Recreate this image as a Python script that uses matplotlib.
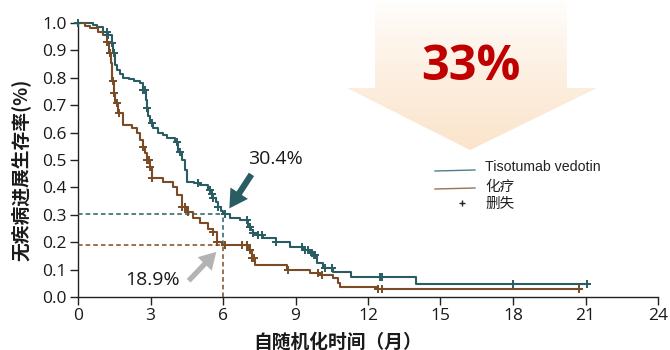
import numpy as np
import matplotlib
matplotlib.use("Agg")
import matplotlib.pyplot as plt
from matplotlib.patches import Polygon, FancyArrowPatch
from matplotlib.lines import Line2D

# ---- Kaplan-Meier data (months, survival probability) ----
tv_times = [0, 0.6, 0.8, 1.05, 1.25, 1.4, 1.45, 1.53, 1.6, 1.75, 1.87, 2.1, 2.3, 2.57,
            2.7, 2.8, 2.85, 2.9, 2.98, 3.1, 3.3, 3.5, 3.7, 4.0, 4.15, 4.3, 4.43, 4.5,
            4.8, 5.05, 5.38, 5.5, 5.6, 5.7, 5.8, 5.9, 6.0, 6.3, 6.7, 7.05, 7.15, 7.25,
            7.4, 7.65, 8.2, 8.77, 9.3, 9.6, 9.75, 9.9, 10.15, 10.55, 11.3, 14.0]
tv_surv = [1.0, 0.993, 0.985, 0.967, 0.956, 0.927, 0.89, 0.847, 0.83, 0.815, 0.80, 0.795,
           0.79, 0.78, 0.755, 0.72, 0.69, 0.66, 0.635, 0.615, 0.60, 0.59, 0.58, 0.565,
           0.53, 0.50, 0.463, 0.42, 0.415, 0.41, 0.39, 0.375, 0.36, 0.345, 0.33, 0.315,
           0.304, 0.29, 0.28, 0.255, 0.245, 0.233, 0.225, 0.215, 0.20, 0.182, 0.17, 0.16,
           0.153, 0.124, 0.106, 0.09, 0.073, 0.047]
tv_end = 21.1
tv_censor = [0, 1.2, 1.25, 1.4, 1.47, 2.7, 2.77, 2.85, 3.06, 4.1, 4.2, 4.97, 5.46, 5.54,
             5.6, 5.8, 6.08, 7.0, 7.1, 7.25, 7.45, 7.6, 8.2, 9.27, 9.4, 9.5, 9.68, 9.75,
             9.8, 10.2, 10.5, 12.5, 12.6, 18.0, 21.05]

chemo_times = [0, 0.29, 0.5, 0.83, 1.05, 1.2, 1.28, 1.37, 1.42, 1.47, 1.53, 1.67, 1.87,
               2.23, 2.43, 2.57, 2.7, 2.77, 2.85, 2.98, 3.06, 3.5, 3.93, 4.1, 4.3, 4.5,
               4.77, 5.05, 5.38, 5.6, 5.75, 5.95, 7.05, 7.2, 7.32, 8.65, 9.6, 10.0, 10.55,
               10.75, 10.85, 12.4]
chemo_surv = [1.0, 0.99, 0.98, 0.967, 0.956, 0.93, 0.89, 0.854, 0.79, 0.745, 0.708, 0.67,
              0.628, 0.617, 0.60, 0.573, 0.547, 0.525, 0.50, 0.474, 0.434, 0.42, 0.40,
              0.372, 0.33, 0.31, 0.29, 0.27, 0.25, 0.237, 0.20, 0.189, 0.17, 0.142, 0.117,
              0.10, 0.088, 0.08, 0.07, 0.05, 0.037, 0.03]
chemo_end = 20.85
chemo_censor = [1.2, 1.32, 1.45, 1.5, 1.6, 1.7, 2.7, 2.85, 2.92, 2.98, 3.06, 4.3, 4.43,
                4.55, 5.6, 5.75, 6.08, 6.78, 7.0, 7.1, 7.2, 7.3, 8.7, 9.93, 10.1, 12.4,
                12.6, 20.75]

landmark_t = 6
tv_at_6 = 0.304
chemo_at_6 = 0.189
reduction_label = "33%"

x_ticks = [0, 3, 6, 9, 12, 15, 18, 21, 24]
y_ticks = [0.0, 0.1, 0.2, 0.3, 0.4, 0.5, 0.6, 0.7, 0.8, 0.9, 1.0]

TEAL = "#2a5c63"
BROWN = "#7a4b24"
CJK = ["Noto Sans CJK SC", "DejaVu Sans"]
NUM = ["Open Sans", "DejaVu Sans"]

W, H = 670, 350
fig = plt.figure(figsize=(W / 100, H / 100), dpi=100)

# ---- background overlay in pixel coordinates: the big gradient arrow ----
bg = fig.add_axes([0, 0, 1, 1], zorder=0)
bg.set_xlim(0, W)
bg.set_ylim(H, 0)
bg.axis("off")
grad = np.linspace(0, 1, 256)[:, None]
top = np.array([1.0, 1.0, 1.0])
bot = np.array([251, 228, 203]) / 255
img = top + (bot - top) * grad[..., None] ** 0.8
img = np.repeat(img, 2, axis=1)
im = bg.imshow(img, extent=[345, 600, 150, 0], aspect="auto", zorder=1)
arrow_poly = Polygon([[375, 0], [567, 0], [567, 88], [597, 88], [470, 150],
                      [347, 88], [375, 88]], closed=True, transform=bg.transData,
                     facecolor="none", edgecolor="none")
bg.add_patch(arrow_poly)
im.set_clip_path(arrow_poly)
bg.text(471, 68, reduction_label, color="#c00000", fontsize=35, fontweight="bold",
        family=NUM, ha="center", va="center", zorder=3)

# ---- main KM axes ----
ax = fig.add_axes([78 / W, 1 - 297 / H, 580 / W, 274 / H], zorder=2)
ax.patch.set_alpha(0)


def step_xy(times, surv, end):
    return list(times) + [end], list(surv) + [surv[-1]]


def surv_at(times, surv, c):
    idx = np.searchsorted(times, c, side="right") - 1
    return np.asarray(surv)[idx]


for times, surv, end, cens, col in [
        (tv_times, tv_surv, tv_end, tv_censor, TEAL),
        (chemo_times, chemo_surv, chemo_end, chemo_censor, BROWN)]:
    xs, ys = step_xy(times, surv, end)
    ax.step(xs, ys, where="post", color=col, lw=1.5, zorder=4, clip_on=False)
    cy = surv_at(times, surv, np.array(cens))
    ax.plot(cens, cy, ls="none", marker="+", ms=5.5, mew=1.4, color=col,
            zorder=5, clip_on=False)

# landmark guide lines at 6 months
ax.plot([0, landmark_t], [tv_at_6, tv_at_6], ls=(0, (3, 2)), color=TEAL, lw=1.1, zorder=3)
ax.plot([landmark_t, landmark_t], [chemo_at_6, tv_at_6], ls=(0, (3, 2)), color=TEAL,
        lw=1.1, zorder=3)
ax.plot([0, landmark_t], [chemo_at_6, chemo_at_6], ls=(0, (3, 2)), color=BROWN, lw=1.1,
        zorder=3)
ax.plot([landmark_t, landmark_t], [0, chemo_at_6], ls=(0, (3, 2)), color=BROWN, lw=1.1,
        zorder=3, clip_on=False)

# value call-outs
ax.text(8.15, 0.505, f"{tv_at_6 * 100:.1f}%", fontsize=14, family=NUM,
        ha="center", va="center", color="#1a1a1a")
ax.text(3.1, 0.062, f"{chemo_at_6 * 100:.1f}%", fontsize=14, family=NUM,
        ha="center", va="center", color="#1a1a1a")
ax.add_patch(FancyArrowPatch((7.24, 0.456), (6.2, 0.315), mutation_scale=10,
                             arrowstyle="simple,head_length=1.3,head_width=1.5,tail_width=0.45",
                             color=TEAL, lw=0, zorder=6))
ax.add_patch(FancyArrowPatch((4.5, 0.052), (5.8, 0.172), mutation_scale=10,
                             arrowstyle="simple,head_length=1.2,head_width=1.4,tail_width=0.38",
                             color="#b3b3b3", lw=0, zorder=6))

ax.set_xlim(0, 24)
ax.set_ylim(0, 1.0)
ax.set_xticks(x_ticks)
ax.set_yticks(y_ticks)
ax.set_yticklabels([f"{v:.1f}" for v in y_ticks])
for s in ["top", "right"]:
    ax.spines[s].set_visible(False)
for s in ["left", "bottom"]:
    ax.spines[s].set_color("#222222")
    ax.spines[s].set_linewidth(1.0)
ax.tick_params(axis="both", direction="out", length=6, width=1.0, color="#222222",
               labelsize=12.5, labelcolor="#1a1a1a", pad=2)
for lab in ax.get_xticklabels() + ax.get_yticklabels():
    lab.set_family(NUM)

fig.text(338 / W, 1 - 342 / H, "自随机化时间（月）", family=CJK, fontweight="bold",
         fontsize=13.5, ha="center", va="center", color="#1a1a1a")
fig.text(22 / W, 1 - 170 / H, "无疾病进展生存率(%)", family=CJK, fontweight="bold",
         fontsize=13.5, ha="center", va="center", rotation=90, color="#1a1a1a")

# legend drawn in pixel coordinates
LEG_FONT = ["Liberation Sans", "Noto Sans CJK SC", "DejaVu Sans"]
bg.add_line(Line2D([435, 475], [171, 170], color="#4f7f8a", lw=1.0, zorder=3))
bg.add_line(Line2D([435, 475], [189, 188], color="#9a7152", lw=1.0, zorder=3))
bg.text(485, 167, "Tisotumab vedotin", family=LEG_FONT, fontsize=10.2, va="center",
        ha="left", color="#222222", zorder=3)
bg.text(485, 187, "化疗", family=["Noto Sans CJK SC", "DejaVu Sans"], fontsize=10.5,
        va="center", ha="left", color="#222222", zorder=3)
bg.plot([462], [203], marker="+", ms=5, mew=1.0, color="#222222", zorder=3)
bg.text(485, 204, "删失", family=["Noto Sans CJK SC", "DejaVu Sans"], fontsize=10.5,
        va="center", ha="left", color="#222222", zorder=3)

fig.savefig("out.png", dpi=100)
